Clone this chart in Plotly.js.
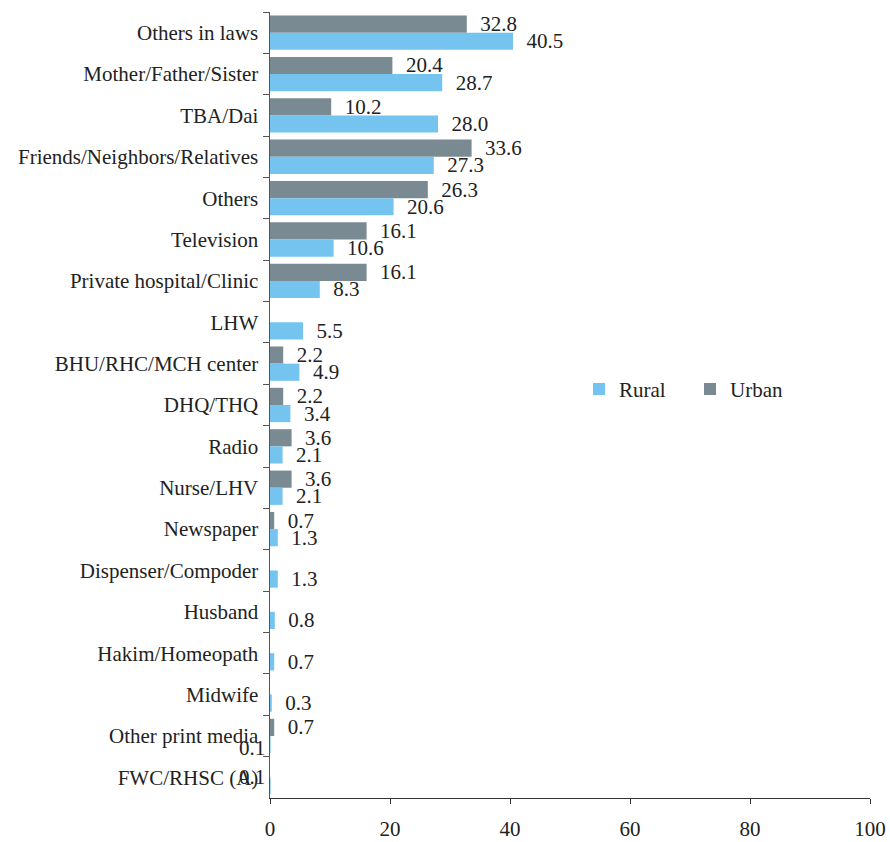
<!DOCTYPE html>
<html>
<head>
<meta charset="utf-8">
<script src="https://cdn.plot.ly/plotly-3.0.1.min.js"></script>
<style>html,body{margin:0;padding:0;background:#fff;}#chart{width:890px;height:842px;}</style>
</head>
<body>
<div id="chart"></div>
<script>
var categories = ["Others in laws","Mother/Father/Sister","TBA/Dai","Friends/Neighbors/Relatives","Others","Television","Private hospital/Clinic","LHW","BHU/RHC/MCH center","DHQ/THQ","Radio","Nurse/LHV","Newspaper","Dispenser/Compoder","Husband","Hakim/Homeopath","Midwife","Other print media","FWC/RHSC (A)"];
var urban = [32.8,20.4,10.2,33.6,26.3,16.1,16.1,null,2.2,2.2,3.6,3.6,0.7,null,null,null,null,0.7,null];
var rural = [40.5,28.7,28.0,27.3,20.6,10.6,8.3,5.5,4.9,3.4,2.1,2.1,1.3,1.3,0.8,0.7,0.3,0.1,0.1];

var FONT = "'Liberation Serif', 'Times New Roman', serif";
var FS = 21;
var fmt = function(v){ return v == null ? "" : v.toFixed(1); };
var pad = function(v){ return v == null ? "" : "\u2002" + fmt(v); };
var small = 0.2;

var ruralText = rural.map(function(v){ return (v != null && v < small) ? "" : pad(v); });

var traces = [
  {type:"bar", orientation:"h", name:"Urban", y:categories, x:urban,
   marker:{color:"#7A8A92"}, text:urban.map(pad), textposition:"outside",
   constraintext:"none", cliponaxis:false, textfont:{family:FONT,size:FS,color:"#222"}},
  {type:"bar", orientation:"h", name:"Rural", y:categories, x:rural,
   marker:{color:"#75C4EF"}, text:ruralText, textposition:"outside",
   constraintext:"none", cliponaxis:false, textfont:{family:FONT,size:FS,color:"#222"}}
];

var annotations = [];
var tinyShifts = [-12, 0];
var k = 0;
rural.forEach(function(v,i){
  if (v != null && v < small) {
    annotations.push({x:0, y:categories[i], xref:"x", yref:"y", text:fmt(v),
      showarrow:false, xanchor:"right", xshift:-3, yshift:tinyShifts[k++] || 0,
      font:{family:FONT,size:FS,color:"#222"}});
  }
});

var layout = {
  width:890, height:842,
  margin:{l:270, r:20, t:12, b:44, autoexpand:false},
  paper_bgcolor:"#fff", plot_bgcolor:"#fff",
  barmode:"group", bargap:0.17, bargroupgap:0,
  font:{family:FONT, size:FS, color:"#222"},
  showlegend:true,
  legend:{orientation:"h", x:0.515, y:0.52, xanchor:"left", yanchor:"middle",
    traceorder:"reversed", entrywidth:66, font:{family:FONT,size:FS,color:"#222"},
    bgcolor:"rgba(0,0,0,0)"},
  xaxis:{range:[0,100], dtick:20, showgrid:false, zeroline:false, automargin:false,
    showline:true, linecolor:"#333", linewidth:1, ticks:"outside", ticklen:5,
    tickcolor:"#333", ticklabelstandoff:7, tickfont:{family:FONT,size:FS,color:"#222"}},
  yaxis:{type:"category", autorange:"reversed", showgrid:false, zeroline:false, automargin:false,
    showline:true, linecolor:"#555", linewidth:1.5, ticks:"outside", ticklen:6,
    tickcolor:"#555", tickson:"boundaries", ticklabelstandoff:6,
    tickfont:{family:FONT,size:FS,color:"#222"}},
  annotations:annotations
};

Plotly.newPlot("chart", traces, layout, {displayModeBar:false, staticPlot:true});
</script>
</body>
</html>
